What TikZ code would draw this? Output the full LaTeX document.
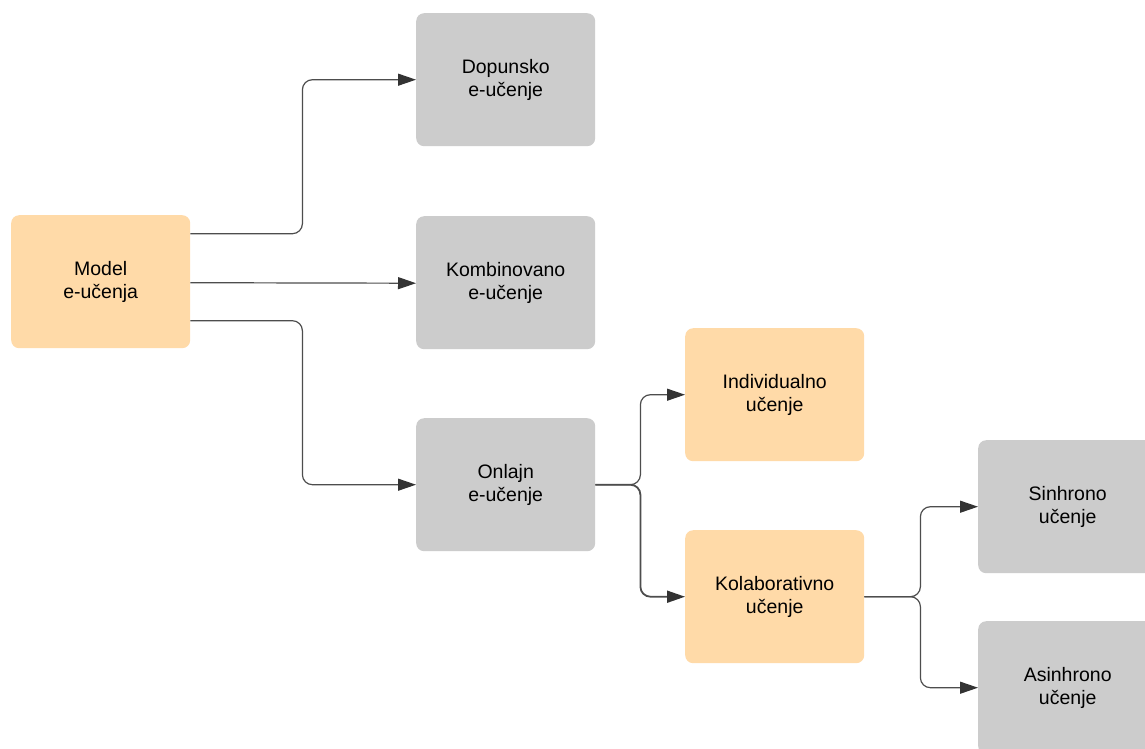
\documentclass[tikz,border=0pt]{standalone}
\usepackage{fontspec}
\setmainfont{Liberation Sans}
\usetikzlibrary{arrows.meta,calc}
\definecolor{boxorange}{HTML}{FFDAA8}
\definecolor{boxgray}{HTML}{CCCCCC}
\definecolor{linegray}{HTML}{4D4D4D}
\definecolor{tipgray}{HTML}{333333}
\begin{document}
\begin{tikzpicture}[x=1pt,y=-1pt,
  card/.style={rounded corners=8pt, minimum width=179pt, minimum height=133pt,
    inner sep=0pt, align=center, anchor=north west,
    font=\fontsize{19.5}{23}\selectfont},
  orangecard/.style={card, fill=boxorange},
  graycard/.style={card, fill=boxgray},
  conn/.style={draw=linegray, line width=1.2pt, rounded corners=10pt,
    -{Triangle[length=18pt,width=12pt,color=tipgray]}},
  thickconn/.style={conn, line width=1.8pt}]
  \clip (0,0) rectangle (1145,748);
  \fill[white] (0,0) rectangle (1145,748);

  % boxes
  \node[orangecard] (model) at (11,215) {Model\\e-učenja};
  \node[graycard] (dop) at (416,13) {Dopunsko\\e-učenje};
  \node[graycard] (komb) at (416,216) {Kombinovano\\e-učenje};
  \node[graycard] (onl) at (416,418) {Onlajn\\e-učenje};
  \node[orangecard] (ind) at (685,328) {Individualno\\učenje};
  \node[orangecard] (kol) at (685,530) {Kolaborativno\\učenje};
  \node[graycard] (sin) at (978,440) {Sinhrono\\učenje};
  \node[graycard] (asin) at (978,621) {Asinhrono\\učenje};

  % connectors from the model
  \draw[conn] ($(model.east)+(0,-48)$) -- ++(112,0) |- (dop.west);
  \draw[conn] ($(model.east)+(0,1)$) -- ($(komb.west)+(0,0.5)$);
  \draw[conn] ($(model.east)+(0,39)$) -- ++(112,0) |- (onl.west);

  % online branches
  \draw[conn] (onl.east) -- ++(45,0) |- (ind.west);
  \draw[thickconn] (onl.east) -- ++(45,0) |- (kol.west);

  % collaborative branches
  \draw[conn] (kol.east) -- ++(56,0) |- (sin.west);
  \draw[conn] (kol.east) -- ++(56,0) |- (asin.west);
\end{tikzpicture}
\end{document}
